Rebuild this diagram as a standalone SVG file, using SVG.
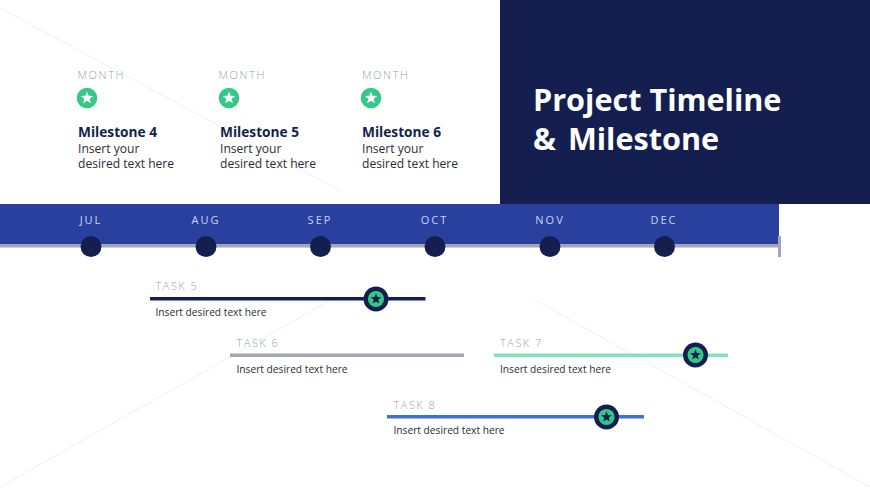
<svg xmlns="http://www.w3.org/2000/svg" width="870" height="489" viewBox="0 0 870 489">
<style>
text{font-family:"Open Sans","Noto Sans","Liberation Sans",sans-serif}
.month{font-size:11px;font-weight:300;letter-spacing:1.6px;fill:#9a9fa8}
.mt{font-size:13.700px;font-weight:700;fill:#141f50}
.body{font-size:12.100px;fill:#2b2d33}
.mon{font-size:11px;letter-spacing:2px;fill:#c9d4f5;text-anchor:middle}
.task{font-size:11px;font-weight:300;letter-spacing:1.5px;fill:#9a9fa8}
.tb{font-size:10.200px;fill:#2b2d33}
.title{font-size:30.600px;font-weight:700;fill:#fff}
.dot{fill:#141f50}
.g{fill:#34c886}
.faint{stroke:#eff0f2;stroke-width:1;fill:none}
</style>
<defs>
<polygon id="star" points="0,-6 1.47,-2.02 5.71,-1.85 2.38,.77 3.53,4.85 0,2.5 -3.53,4.85 -2.38,.77 -5.71,-1.85 -1.47,-2.02"/>
<g id="flag"><circle r="12.500" class="dot"/><circle r="8" class="g"/><use href="#star" transform="scale(.95)" fill="#141f50"/></g>
<g id="badge"><circle r="10.300" class="g"/><use href="#star" transform="scale(1.1)" fill="#fff"/></g>
</defs>
<rect width="870" height="489" fill="#fff"/>
<g id="background-lines">
<path class="faint" d="M0 8L341 191"/>
<path class="faint" d="M535 300L870 487"/>
<path class="faint" d="M331 300L0 487"/>
</g>
<g id="title-panel">
<rect x="500" width="370" height="204" fill="#141f50"/>
<text class="title" x="533" y="111">Project Timeline</text>
<text class="title" x="533" y="150" word-spacing="4">&amp; Milestone</text>
</g>
<g id="timeline-band">
<rect y="204" width="779" height="40" fill="#29409f"/>
<rect y="244" width="779" height="3.500" fill="#a1a8b3"/>
<rect x="778" y="236" width="3" height="21" fill="#a1a8b3"/>
</g>
<g id="month-jul"><text class="mon" x="91" y="224">JUL</text><circle class="dot" cx="91" cy="246.500" r="10.500"/></g>
<g id="month-aug"><text class="mon" x="206" y="224">AUG</text><circle class="dot" cx="206" cy="246.500" r="10.500"/></g>
<g id="month-sep"><text class="mon" x="320" y="224">SEP</text><circle class="dot" cx="320.500" cy="246.500" r="10.500"/></g>
<g id="month-oct"><text class="mon" x="434.500" y="224">OCT</text><circle class="dot" cx="435" cy="246.500" r="10.500"/></g>
<g id="month-nov"><text class="mon" x="550" y="224">NOV</text><circle class="dot" cx="550" cy="246.500" r="10.500"/></g>
<g id="month-dec"><text class="mon" x="664" y="224">DEC</text><circle class="dot" cx="664.500" cy="246.500" r="10.500"/></g>
<g id="milestone-4">
<text class="month" x="77.500" y="79">MONTH</text><use href="#badge" x="87" y="98"/>
<text x="78" y="137"><tspan class="mt">Milestone 4</tspan><tspan class="body" x="78" dy="16">Insert your</tspan><tspan class="body" x="78" dy="15">desired text here</tspan></text>
</g>
<g id="milestone-5">
<text class="month" x="218.500" y="79">MONTH</text><use href="#badge" x="229" y="98"/>
<text x="220" y="137"><tspan class="mt">Milestone 5</tspan><tspan class="body" x="220" dy="16">Insert your</tspan><tspan class="body" x="220" dy="15">desired text here</tspan></text>
</g>
<g id="milestone-6">
<text class="month" x="362" y="79">MONTH</text><use href="#badge" x="371" y="98"/>
<text x="362" y="137"><tspan class="mt">Milestone 6</tspan><tspan class="body" x="362" dy="16">Insert your</tspan><tspan class="body" x="362" dy="15">desired text here</tspan></text>
</g>
<g id="task-5">
<text class="task" x="155.500" y="290">TASK 5</text>
<rect x="150" y="297" width="275.500" height="3.500" fill="#141f50"/>
<use href="#flag" x="376" y="299"/>
<text class="tb" x="155.500" y="316">Insert desired text here</text>
</g>
<g id="task-6">
<text class="task" x="236.500" y="346.500">TASK 6</text>
<rect x="230" y="353.500" width="234" height="3.500" fill="#a1a8b3"/>
<text class="tb" x="236.500" y="372.500">Insert desired text here</text>
</g>
<g id="task-7">
<text class="task" x="500" y="346.500">TASK 7</text>
<rect x="494" y="353.500" width="234" height="3.500" fill="#7fe3b8"/>
<use href="#flag" x="695.500" y="355"/>
<text class="tb" x="500" y="372.500">Insert desired text here</text>
</g>
<g id="task-8">
<text class="task" x="393.500" y="408.500">TASK 8</text>
<rect x="387" y="415" width="257" height="3.500" fill="#3f71d3"/>
<use href="#flag" x="606.500" y="417"/>
<text class="tb" x="393.500" y="434">Insert desired text here</text>
</g>
</svg>
